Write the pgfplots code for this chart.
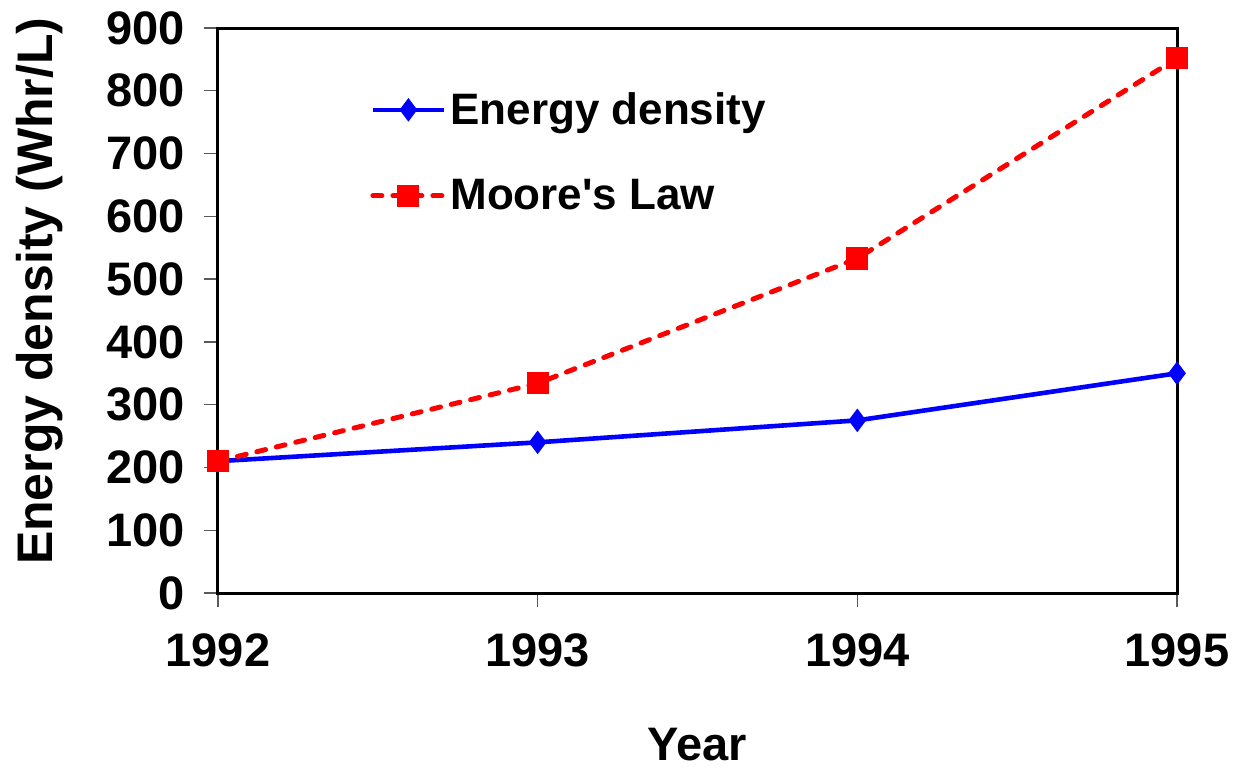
\documentclass[border=0pt]{standalone}
\usepackage{fontspec}
\setmainfont{Liberation Sans}[Ligatures=TeXOff]
\usepackage{pgfplots}
\pgfplotsset{compat=1.18}
\begin{document}
\begin{tikzpicture}
\begin{axis}[
  at={(0,0)}, anchor=south west,
  scale only axis, width=479.5pt, height=282.5pt,
  xmin=0, xmax=3, ymin=0, ymax=900,
  xtick={0,1,2,3}, xticklabels={1992,1993,1994,1995},
  ytick={0,100,...,900},
  tick align=outside, tick pos=left,
  major tick length=7pt,
  tick style={gray!70!black, line width=0.7pt},
  axis line style={line width=1.5pt},
  /pgf/number format/assume math mode=true,
  font=\bfseries\fontsize{23.5}{28}\selectfont,
  ticklabel style={font=\bfseries\fontsize{23.5}{28}\selectfont},
  xticklabel style={yshift=-10pt},
  yticklabel style={xshift=-6pt},
  clip=false,
  xlabel={Year}, ylabel={Energy density (Whr/L)},
  xlabel style={at={(axis description cs:0.5,0)}, anchor=center, yshift=-76pt},
  ylabel style={at={(axis description cs:-0.1856,0.534)}, anchor=center,
    font=\bfseries\fontsize{25}{30}\selectfont},
  legend style={at={(76pt,252.5pt)}, anchor=north west, draw=none, fill=none,
    font=\bfseries\fontsize{22}{26}\selectfont, row sep=22pt, inner sep=0pt},
  legend cell align=left,
  legend image code/.code={\draw[mark repeat=2,mark phase=2,#1] plot coordinates {(0pt,0pt) (17.75pt,0pt) (35.5pt,0pt)};},
]
\addplot[blue, line width=2.3pt, mark=diamond*, mark size=4pt, mark options={solid}]
  coordinates {(0,210) (1,240) (2,275) (3,350)};
\addlegendentry{Energy density}
\addplot[red, line width=2.5pt, line cap=round, dash pattern=on 4.5pt off 5.5pt, mark=square*, mark size=4.3pt, mark options={solid}]
  coordinates {(0,210) (1,334) (2,533) (3,852)};
\addlegendentry{Moore's Law}
\end{axis}
\pgfresetboundingbox
\path (-109pt,-87.5pt) rectangle (508.5pt,296.5pt);
\end{tikzpicture}
\end{document}
